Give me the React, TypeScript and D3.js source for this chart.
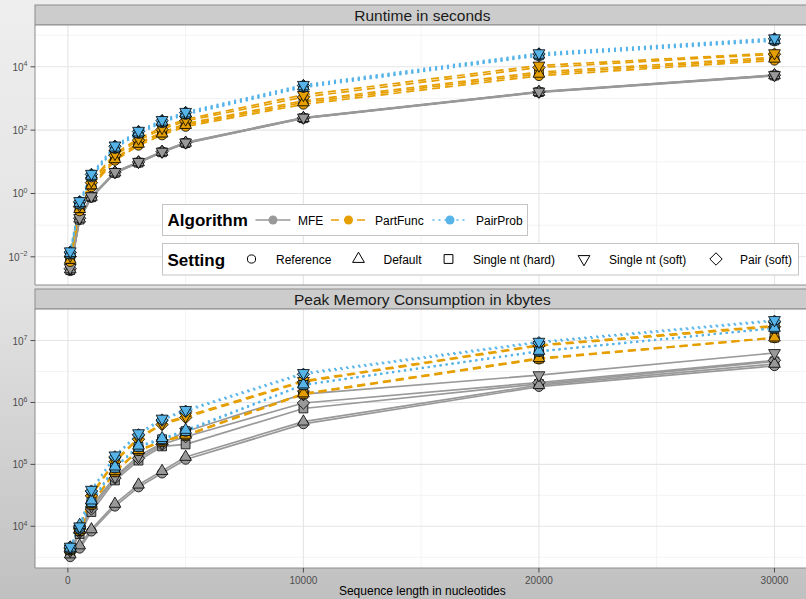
import React from "react";
import * as d3 from "d3";

const xValues = [100, 500, 1000, 2000, 3000, 4000, 5000, 10000, 20000, 30000];
const algorithms = ["MFE", "PartFunc", "PairProb"];
const algoColors = ["#999999", "#E69F00", "#56B4E9"];
const algoDash = ["none", "8,5", "2,4"];
const settings = ["Reference", "Default", "Single nt (hard)", "Single nt (soft)", "Pair (soft)"];
// order in which the point shapes are stacked (last on top)
const pointOrder = [0, 2, 4, 1, 3];

// runtime in seconds, rows follow `settings`
const runtimeMFE = [
  [0.0036, 0.15, 0.75, 4.4, 9.3, 20, 38, 235, 1550, 5200],
  [0.004, 0.16, 0.78, 4.6, 9.6, 20.5, 40, 240, 1600, 5400],
  [0.0038, 0.15, 0.76, 4.5, 9.4, 20, 39, 238, 1580, 5300],
  [0.0045, 0.17, 0.82, 4.8, 10, 21, 41, 250, 1650, 5500],
  [0.0042, 0.165, 0.8, 4.7, 9.8, 21, 40.5, 245, 1620, 5450],
];
const runtimePartFunc = [
  [0.007, 0.28, 1.6, 11, 33, 70, 130, 650, 5200, 16000],
  [0.008, 0.32, 1.8, 12, 37, 78, 145, 750, 6000, 18000],
  [0.0085, 0.34, 1.9, 13, 40, 85, 160, 850, 6800, 20000],
  [0.011, 0.42, 2.5, 18, 55, 120, 220, 1300, 11000, 27000],
  [0.01, 0.38, 2.2, 16, 48, 105, 195, 1100, 9500, 25000],
];
const runtimePairProb = [
  [0.012, 0.45, 3.3, 26, 78, 170, 310, 2200, 22000, 65000],
  [0.013, 0.5, 3.6, 28, 84, 185, 335, 2400, 24000, 70000],
  [0.0125, 0.48, 3.5, 27, 80, 178, 320, 2300, 23000, 68000],
  [0.015, 0.58, 4.2, 33, 96, 210, 380, 2700, 27000, 80000],
  [0.014, 0.55, 4.0, 31, 90, 200, 360, 2550, 25500, 76000],
];

// peak memory in kbytes
const memoryMFE = [
  [3200, 4400, 8300, 21000, 43000, 72000, 120000, 450000, 1800000, 3900000],
  [3500, 4900, 8900, 23000, 47000, 78000, 132000, 490000, 1900000, 4200000],
  [3900, 7500, 17000, 55000, 115000, 195000, 210000, 800000, 2000000, 4600000],
  [4000, 8500, 21000, 63000, 137000, 220000, 340000, 1360000, 2760000, 6300000],
  [3950, 8000, 19000, 60000, 125000, 210000, 280000, 980000, 2100000, 4800000],
];
const memoryPartFunc = [
  [4100, 8400, 22000, 75000, 165000, 230000, 290000, 1350000, 5000000, 11000000],
  [4200, 8700, 23000, 78000, 170000, 240000, 300000, 1400000, 5200000, 11200000],
  [4150, 8500, 22500, 76000, 167000, 235000, 295000, 1380000, 5100000, 11100000],
  [4400, 9200, 33000, 115000, 270000, 460000, 600000, 2240000, 8500000, 17500000],
  [4350, 9000, 31000, 110000, 255000, 440000, 570000, 2150000, 8200000, 16700000],
];
const memoryPairProb = [
  [4300, 9000, 24000, 87000, 190000, 250000, 340000, 1900000, 6600000, 15700000],
  [4500, 10500, 26000, 92000, 200000, 265000, 360000, 1950000, 6800000, 16000000],
  [4400, 9500, 24500, 88000, 192000, 255000, 345000, 1920000, 6700000, 15800000],
  [4700, 10000, 39000, 140000, 320000, 550000, 760000, 3000000, 9600000, 21500000],
  [4600, 9800, 37000, 132000, 300000, 520000, 720000, 2850000, 9200000, 20500000],
];

const xTicks = [0, 10000, 20000, 30000];
const xMinor = [5000, 15000, 25000];
const runtimeTicks = [-2, 0, 2, 4];
const runtimeMinor = [-1, 1, 3, 5];
const memoryTicks = [4, 5, 6, 7];
const memoryMinor = [3.5, 4.5, 5.5, 6.5, 7.5];

const FONT = "'Liberation Sans', Arial, Helvetica, sans-serif";
const W = 806;
const H = 599;
const PL = 35;
const PR = 809.7;

const shapePath = (i: number, k = 1) => {
  switch (i) {
    case 0: {
      const r = 4.8 * k;
      return `M${-r},0A${r},${r} 0 1,0 ${r},0A${r},${r} 0 1,0 ${-r},0Z`;
    }
    case 1:
      return `M0,${-6.8 * k}L${5.9 * k},${3.4 * k}L${-5.9 * k},${3.4 * k}Z`;
    case 2: {
      const s = 4.4 * k;
      return `M${-s},${-s}L${s},${-s}L${s},${s}L${-s},${s}Z`;
    }
    case 3:
      return `M0,${6.8 * k}L${5.9 * k},${-3.4 * k}L${-5.9 * k},${-3.4 * k}Z`;
    default:
      return `M0,${-6.2 * k}L${6.2 * k},0L0,${6.2 * k}L${-6.2 * k},0Z`;
  }
};

type PanelProps = {
  title: string;
  top: number;
  bottom: number;
  logMin: number;
  logMax: number;
  ticks: number[];
  minor: number[];
  data: number[][][];
  clipId: string;
  showX: boolean;
};

const Panel = ({ title, top, bottom, logMin, logMax, ticks, minor, data, clipId, showX }: PanelProps) => {
  const x = d3.scaleLinear().domain([-1395, 31495]).range([PL, PR]);
  const y = d3.scaleLog().domain([10 ** logMin, 10 ** logMax]).range([bottom, top]);
  const line = d3
    .line<number>()
    .x((_, i) => x(xValues[i]))
    .y((d) => y(d));

  const stripTop = top - 20;
  return (
    <g>
      <rect x={PL} y={stripTop} width={W - PL + 5} height={20} fill="#cccccc" stroke="#8c8c8c" strokeWidth={1} />
      <text x={(PL + PR) / 2} y={stripTop + 15.5} textAnchor="middle" fontSize={15.5} fill="#1a1a1a">
        {title}
      </text>
      <rect x={PL} y={top} width={W - PL + 5} height={bottom - top} fill="#ffffff" />
      <clipPath id={clipId}>
        <rect x={PL} y={top} width={W - PL + 5} height={bottom - top} />
      </clipPath>
      <g clipPath={`url(#${clipId})`}>
        {minor.map((m) => (
          <line key={"hm" + m} x1={PL} x2={W} y1={y(10 ** m)} y2={y(10 ** m)} stroke="#f3f3f3" strokeWidth={1} />
        ))}
        {xMinor.map((m) => (
          <line key={"vm" + m} x1={x(m)} x2={x(m)} y1={top} y2={bottom} stroke="#f3f3f3" strokeWidth={1} />
        ))}
        {ticks.map((t) => (
          <line key={"h" + t} x1={PL} x2={W} y1={y(10 ** t)} y2={y(10 ** t)} stroke="#e5e5e5" strokeWidth={1.1} />
        ))}
        {xTicks.map((t) => (
          <line key={"v" + t} x1={x(t)} x2={x(t)} y1={top} y2={bottom} stroke="#e5e5e5" strokeWidth={1.1} />
        ))}
        {data.map((rows, a) =>
          rows.map((row, s) => (
            <path
              key={`l${a}-${s}`}
              d={line(row) || ""}
              fill="none"
              stroke={algoColors[a]}
              strokeWidth={1.7}
              strokeDasharray={algoDash[a]}
            />
          ))
        )}
        {data.map((rows, a) =>
          pointOrder.map((s) =>
            rows[s].map((v, i) => (
              <path
                key={`p${a}-${s}-${i}`}
                d={shapePath(s)}
                transform={`translate(${x(xValues[i])},${y(v)})`}
                fill={algoColors[a]}
                stroke="#000000"
                strokeWidth={0.8}
              />
            ))
          )
        )}
      </g>
      <line x1={PL} x2={PL} y1={top} y2={bottom} stroke="#8c8c8c" />
      <line x1={PL} x2={W} y1={bottom} y2={bottom} stroke="#8c8c8c" />
      <line x1={PL} x2={W} y1={top} y2={top} stroke="#8c8c8c" />
      {ticks.map((t) => (
        <g key={"yt" + t}>
          <line x1={PL - 4.5} x2={PL} y1={y(10 ** t)} y2={y(10 ** t)} stroke="#4d4d4d" />
          <text x={PL - 7.5} y={y(10 ** t) + 4} textAnchor="end" fontSize={10} fill="#4d4d4d">
            10
            <tspan dy={-4.5} fontSize={7}>
              {t < 0 ? "\u2212" + Math.abs(t) : String(t)}
            </tspan>
          </text>
        </g>
      ))}
      {showX &&
        xTicks.map((t) => (
          <g key={"xt" + t}>
            <line x1={x(t)} x2={x(t)} y1={bottom} y2={bottom + 4.5} stroke="#4d4d4d" />
            <text x={x(t)} y={bottom + 15.5} textAnchor="middle" fontSize={10} fill="#4d4d4d">
              {t}
            </text>
          </g>
        ))}
    </g>
  );
};

const Legend = () => {
  const algoKeys = [255.5, 331, 432.5];
  const algoText = [298, 375, 476];
  const setKeys = [251.5, 358.5, 448.5, 584, 716];
  const setText = [276, 383.5, 473, 609, 740];
  return (
    <g>
      <rect x={162.5} y={204.5} width={365} height={31} fill="#ffffff" stroke="#c4c4c4" />
      <text x={167.5} y={226} fontSize={17} fontWeight="bold" fill="#000000">
        Algorithm
      </text>
      {algorithms.map((a, i) => (
        <g key={a}>
          <line
            x1={algoKeys[i]}
            x2={algoKeys[i] + 35}
            y1={220}
            y2={220}
            stroke={algoColors[i]}
            strokeWidth={1.6}
            strokeDasharray={algoDash[i]}
          />
          <circle cx={algoKeys[i] + 17.5} cy={220} r={4.5} fill={algoColors[i]} />
          <text x={algoText[i]} y={224.5} fontSize={12} fill="#000000">
            {a}
          </text>
        </g>
      ))}
      <rect x={162.5} y={243.5} width={636} height={31.5} fill="#ffffff" stroke="#c4c4c4" />
      <text x={167.5} y={265.5} fontSize={17} fontWeight="bold" fill="#000000">
        Setting
      </text>
      {settings.map((s, i) => (
        <g key={s}>
          <path
            d={shapePath(i, i === 0 ? 0.85 : 1)}
            transform={`translate(${setKeys[i]},259)`}
            fill="none"
            stroke="#000000"
            strokeWidth={1}
          />
          <text x={setText[i]} y={264} fontSize={12} fill="#000000">
            {s}
          </text>
        </g>
      ))}
    </g>
  );
};

export default function App() {
  return (
    <svg width={W} height={H} style={{ position: "absolute", left: 0, top: 0 }} fontFamily={FONT}>
      <defs>
        <linearGradient id="bg" x1="0" y1="0" x2="0" y2="1">
          <stop offset="0" stopColor="#eeeeee" />
          <stop offset="0.5" stopColor="#e2e2e2" />
          <stop offset="1" stopColor="#c0c0c0" />
        </linearGradient>
      </defs>
      <rect x={0} y={0} width={W} height={H} fill="url(#bg)" />
      <Panel
        title="Runtime in seconds"
        top={25}
        bottom={285}
        logMin={-2.89}
        logMax={5.32}
        ticks={runtimeTicks}
        minor={runtimeMinor}
        data={[runtimeMFE, runtimePartFunc, runtimePairProb]}
        clipId="clipTop"
        showX={false}
      />
      <Legend />
      <Panel
        title="Peak Memory Consumption in kbytes"
        top={309}
        bottom={568}
        logMin={3.326}
        logMax={7.51}
        ticks={memoryTicks}
        minor={memoryMinor}
        data={[memoryMFE, memoryPartFunc, memoryPairProb]}
        clipId="clipBottom"
        showX={true}
      />
      <text x={(PL + PR) / 2} y={594.5} textAnchor="middle" fontSize={12} fill="#000000">
        Sequence length in nucleotides
      </text>
    </svg>
  );
}
